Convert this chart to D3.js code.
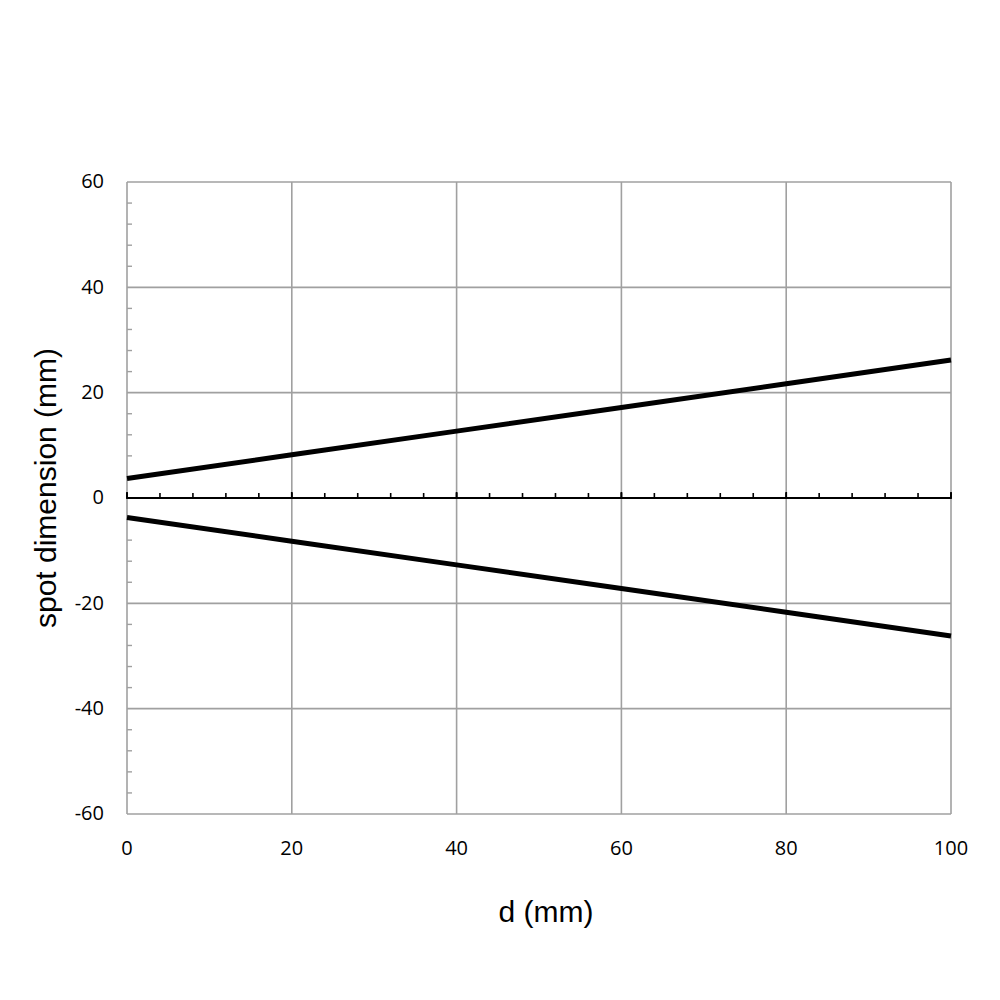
<!DOCTYPE html>
<html>
<head>
<meta charset="utf-8">
<script src="https://cdn.jsdelivr.net/npm/d3@7"></script>
<style>
  html, body { margin: 0; padding: 0; background: #fff; }
  svg { display: block; }
</style>
</head>
<body>
<svg id="chart" width="1000" height="1000"></svg>
<script>
// Data
const dValues = [0, 20, 40, 60, 80, 100];
const upperSpot = [3.7, 8.2, 12.7, 17.2, 21.7, 26.2];
const lowerSpot = [-3.7, -8.2, -12.7, -17.2, -21.7, -26.2];
const xTicks = [0, 20, 40, 60, 80, 100];
const yTicks = [-60, -40, -20, 0, 20, 40, 60];
const xTitle = "d (mm)";
const yTitle = "spot dimension (mm)";

(function () {
const svg = d3.select("#chart");
const mLeft = 127, mRight = 951, mTop = 182, mBottom = 814;

const x = d3.scaleLinear().domain([0, 100]).range([mLeft, mRight]);
const y = d3.scaleLinear().domain([-60, 60]).range([mBottom, mTop]);

const grid = "#a0a0a0";

// Vertical gridlines
svg.append("g").selectAll("line").data(xTicks).join("line")
  .attr("x1", d => x(d)).attr("x2", d => x(d))
  .attr("y1", mTop).attr("y2", mBottom)
  .attr("stroke", grid).attr("stroke-width", 1.6);

// Horizontal gridlines
svg.append("g").selectAll("line").data(yTicks.filter(d => d !== 0)).join("line")
  .attr("x1", mLeft).attr("x2", mRight)
  .attr("y1", d => y(d)).attr("y2", d => y(d))
  .attr("stroke", grid).attr("stroke-width", 1.6);

// Y minor ticks (inside, to the right of the left axis)
const yMinor = d3.range(-60, 61, 4).filter(v => v % 20 !== 0);
svg.append("g").selectAll("line").data(yMinor).join("line")
  .attr("x1", mLeft).attr("x2", mLeft + 5)
  .attr("y1", d => y(d)).attr("y2", d => y(d))
  .attr("stroke", grid).attr("stroke-width", 1.4);

// Zero axis line (black) with ticks above
svg.append("line")
  .attr("x1", mLeft).attr("x2", mRight)
  .attr("y1", y(0)).attr("y2", y(0))
  .attr("stroke", "#000").attr("stroke-width", 1.8);
const xMinor = d3.range(0, 101, 4);
svg.append("g").selectAll("line").data(xMinor).join("line")
  .attr("x1", d => x(d)).attr("x2", d => x(d))
  .attr("y1", y(0)).attr("y2", y(0) - 5)
  .attr("stroke", "#000").attr("stroke-width", 1.6);
svg.append("g").selectAll("line").data(xTicks).join("line")
  .attr("x1", d => x(d)).attr("x2", d => x(d))
  .attr("y1", y(0) - 6).attr("y2", y(0) + 1)
  .attr("stroke", "#000").attr("stroke-width", 1.8);

// Data lines
const line = d3.line().x((d, i) => x(dValues[i])).y(d => y(d));
[upperSpot, lowerSpot].forEach(s => {
  svg.append("path").datum(s)
    .attr("d", line)
    .attr("fill", "none").attr("stroke", "#000").attr("stroke-width", 5);
});

// Tick labels
const tickFont = "'Open Sans', sans-serif";
svg.append("g").selectAll("text").data(yTicks).join("text")
  .attr("x", 104).attr("y", d => y(d) + 1)
  .attr("text-anchor", "end").attr("dominant-baseline", "middle")
  .attr("font-family", tickFont).attr("font-size", 20).attr("fill", "#000")
  .text(d => d);
svg.append("g").selectAll("text").data(xTicks).join("text")
  .attr("x", d => x(d)).attr("y", 855)
  .attr("text-anchor", "middle")
  .attr("font-family", tickFont).attr("font-size", 20).attr("fill", "#000")
  .text(d => d);

// Axis titles
svg.append("text")
  .attr("x", 546).attr("y", 922)
  .attr("text-anchor", "middle")
  .attr("font-family", "'Liberation Sans', Arial, sans-serif")
  .attr("font-size", 30).attr("fill", "#000")
  .text(xTitle);
svg.append("text")
  .attr("transform", "translate(56,488) rotate(-90)")
  .attr("text-anchor", "middle")
  .attr("font-family", "'Liberation Sans', Arial, sans-serif")
  .attr("font-size", 30).attr("fill", "#000")
  .text(yTitle);
})();
</script>
</body>
</html>
